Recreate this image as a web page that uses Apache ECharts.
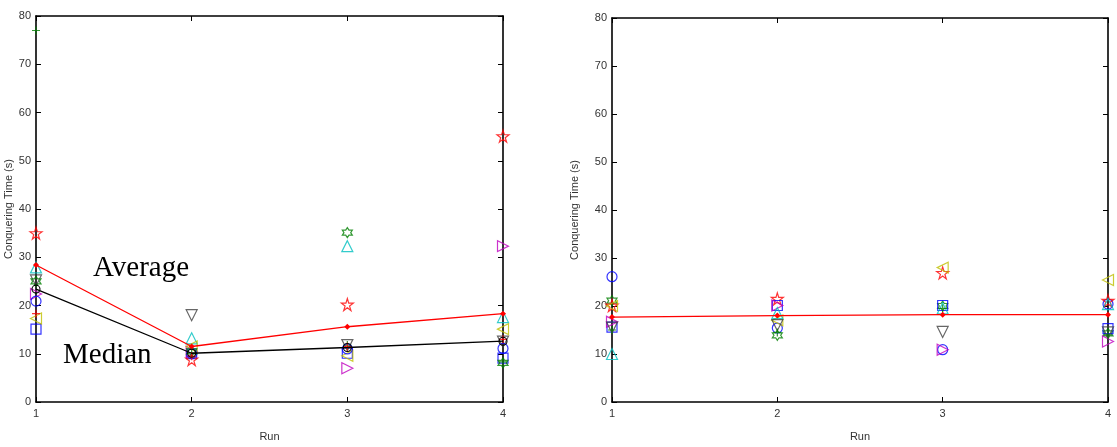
<!DOCTYPE html>
<html>
<head>
<meta charset="utf-8">
<script src="https://cdn.jsdelivr.net/npm/echarts@6/dist/echarts.min.js"></script>
<style>html,body{margin:0;padding:0;background:#fff}#c{width:1117px;height:447px}</style>
</head>
<body>
<div id="c"></div>
<script>
// ---- data ----
const runs = [1, 2, 3, 4];
const yTicks = [0, 10, 20, 30, 40, 50, 60, 70, 80];

// left panel
const L_blueSquare   = [15.1, 10.0, 10.1, 9.1];
const L_greenPlus    = [77.0, 10.2, 11.8, 8.3];
const L_redStar      = [35.0, 8.8, 20.2, 55.1];
const L_cyanUp       = [27.9, 13.2, 32.3, 17.6];
const L_magentaRight = [22.4, 10.4, 7.0, 32.3];
const L_yellowLeft   = [17.3, 11.5, 9.6, 15.1];
const L_grayDown     = [25.2, 18.0, 11.8, 12.5];
const L_blueCircle   = [20.9, 10.0, 11.0, 11.1];
const L_greenHex     = [25.0, 10.5, 35.1, 8.1];
const L_redPlus      = [18.3, 9.5, 11.5, 13.0];
const L_average      = [28.4, 11.5, 15.6, 18.3];
const L_median       = [23.4, 10.1, 11.3, 12.6];

// right panel
const R_blueCircle   = [26.1, 15.4, 10.9, 20.4];
const R_greenHex     = [21.1, 13.9, 20.0, 14.3];
const R_redStar      = [20.1, 21.5, 26.9, 21.1];
const R_yellowLeft   = [20.0, 17.0, 28.0, 25.4];
const R_blueSquare   = [15.6, 20.1, 20.1, 15.3];
const R_magentaRight = [16.7, 20.1, 10.9, 12.6];
const R_cyanUp       = [10.0, 18.5, 19.5, 20.4];
const R_grayDown     = [15.5, 16.0, 14.6, 14.5];
const R_greenPlus    = [15.0, 14.5, 19.5, 14.0];
const R_average      = [17.7, 18.0, 18.2, 18.2];

const labels = {xName: 'Run', yName: 'Conquering Time (s)', avg: 'Average', med: 'Median'};

// ---- styling helpers ----
const STAR = 'path://M50,0 L61,35 L98,35 L68,57 L79,91 L50,70 L21,91 L32,57 L2,35 L39,35 Z';
const HEX = 'path://M50,0 L64,25 L93,25 L79,50 L93,75 L64,75 L50,100 L36,75 L7,75 L21,50 L7,25 L36,25 Z';
const PLUS = 'path://M50,0 L50,100 M0,50 L100,50';

function pts(arr) { return runs.map((r, i) => [r, arr[i]]); }
function sc(arr, gi, symbol, color, rot, size) {
  return {
    type: 'scatter', xAxisIndex: gi * 2, yAxisIndex: gi * 2,
    data: pts(arr), symbol: symbol, symbolRotate: rot || 0, symbolSize: size || 10,
    itemStyle: {color: 'rgba(0,0,0,0)', borderColor: color, borderWidth: 1.2},
    silent: true, z: 3
  };
}
function ln(arr, gi, color, symbol, size, hollow) {
  return {
    type: 'line', xAxisIndex: gi * 2, yAxisIndex: gi * 2, data: pts(arr),
    symbol: symbol, symbolSize: size, showSymbol: true,
    lineStyle: {color: color, width: 1.3},
    itemStyle: hollow ? {color: 'rgba(0,0,0,0)', borderColor: color, borderWidth: 1.1} : {color: color},
    silent: true, z: 4, animation: false
  };
}

const axisText = {color: '#333', fontSize: 11, fontFamily: 'Liberation Sans, Arial, sans-serif'};
function xAx(gi, pos) {
  const main = pos === 'bottom';
  return {
    type: 'value', gridIndex: gi, position: pos, min: 1, max: 4, interval: 1,
    name: main ? labels.xName : '', nameLocation: 'middle', nameGap: 29,
    nameTextStyle: axisText,
    axisLine: {show: true, onZero: false, lineStyle: {color: '#000', width: 1.6}},
    axisTick: {show: true, inside: true, length: 5, lineStyle: {color: '#000'}},
    axisLabel: Object.assign({show: main, margin: 6}, axisText),
    splitLine: {show: false}
  };
}
function yAx(gi, pos, nameGap) {
  const main = pos === 'left';
  return {
    type: 'value', gridIndex: gi, position: pos, min: 0, max: 80, interval: 10,
    name: main ? labels.yName : '', nameLocation: 'middle', nameGap: nameGap, nameRotate: 90,
    nameTextStyle: axisText,
    axisLine: {show: true, onZero: false, lineStyle: {color: '#000', width: 1.6}},
    axisTick: {show: true, inside: true, length: 5, lineStyle: {color: '#000'}},
    axisLabel: Object.assign({show: main, margin: 5, formatter: v => yTicks.includes(v) ? String(v) : ''}, axisText),
    splitLine: {show: false}
  };
}

const C = {blue: '#0000ff', green: '#008000', red: '#ff0000', cyan: '#00bfbf', mag: '#bf00bf', yel: '#bfbf00', gray: '#404040', black: '#000'};

const chart = echarts.init(document.getElementById('c'), null, {renderer: 'canvas'});
chart.setOption({
  animation: false,
  backgroundColor: '#fff',
  grid: [
    {left: 36, top: 16, width: 467, height: 390},
    {left: 612, top: 18, width: 496, height: 390}
  ],
  xAxis: [xAx(0, 'bottom'), xAx(0, 'top'), xAx(1, 'bottom'), xAx(1, 'top')],
  yAxis: [yAx(0, 'left', 22), yAx(0, 'right', 0), yAx(1, 'left', 32), yAx(1, 'right', 0)],
  series: [
    sc(L_blueSquare, 0, 'rect', C.blue, 0, 10),
    sc(L_greenPlus, 0, PLUS, C.green, 0, 8),
    sc(L_redStar, 0, STAR, C.red, 0, 12),
    sc(L_cyanUp, 0, 'triangle', C.cyan, 0, 11),
    sc(L_magentaRight, 0, 'triangle', C.mag, -90, 11),
    sc(L_yellowLeft, 0, 'triangle', C.yel, 90, 11),
    sc(L_grayDown, 0, 'triangle', C.gray, 180, 11),
    sc(L_blueCircle, 0, 'circle', C.blue, 0, 10),
    sc(L_greenHex, 0, HEX, C.green, 0, 10),
    sc(L_redPlus, 0, PLUS, C.red, 0, 8),
    ln(L_average, 0, C.red, 'diamond', 6, false),
    ln(L_median, 0, C.black, 'circle', 8, true),

    sc(R_blueCircle, 1, 'circle', C.blue, 0, 10),
    sc(R_greenHex, 1, HEX, C.green, 0, 10),
    sc(R_redStar, 1, STAR, C.red, 0, 12),
    sc(R_yellowLeft, 1, 'triangle', C.yel, 90, 11),
    sc(R_blueSquare, 1, 'rect', C.blue, 0, 10),
    sc(R_magentaRight, 1, 'triangle', C.mag, -90, 11),
    sc(R_cyanUp, 1, 'triangle', C.cyan, 0, 11),
    sc(R_grayDown, 1, 'triangle', C.gray, 180, 11),
    sc(R_greenPlus, 1, PLUS, C.green, 0, 8),
    ln(R_average, 1, C.red, 'diamond', 6, false)
  ],
  graphic: [
    {type: 'text', left: 93, top: 254, z: 10, silent: true,
     style: {text: labels.avg, font: '29px "Liberation Serif", "Times New Roman", serif', fill: '#000'}},
    {type: 'text', left: 63, top: 341, z: 10, silent: true,
     style: {text: labels.med, font: '29px "Liberation Serif", "Times New Roman", serif', fill: '#000'}}
  ]
});
</script>
</body>
</html>
